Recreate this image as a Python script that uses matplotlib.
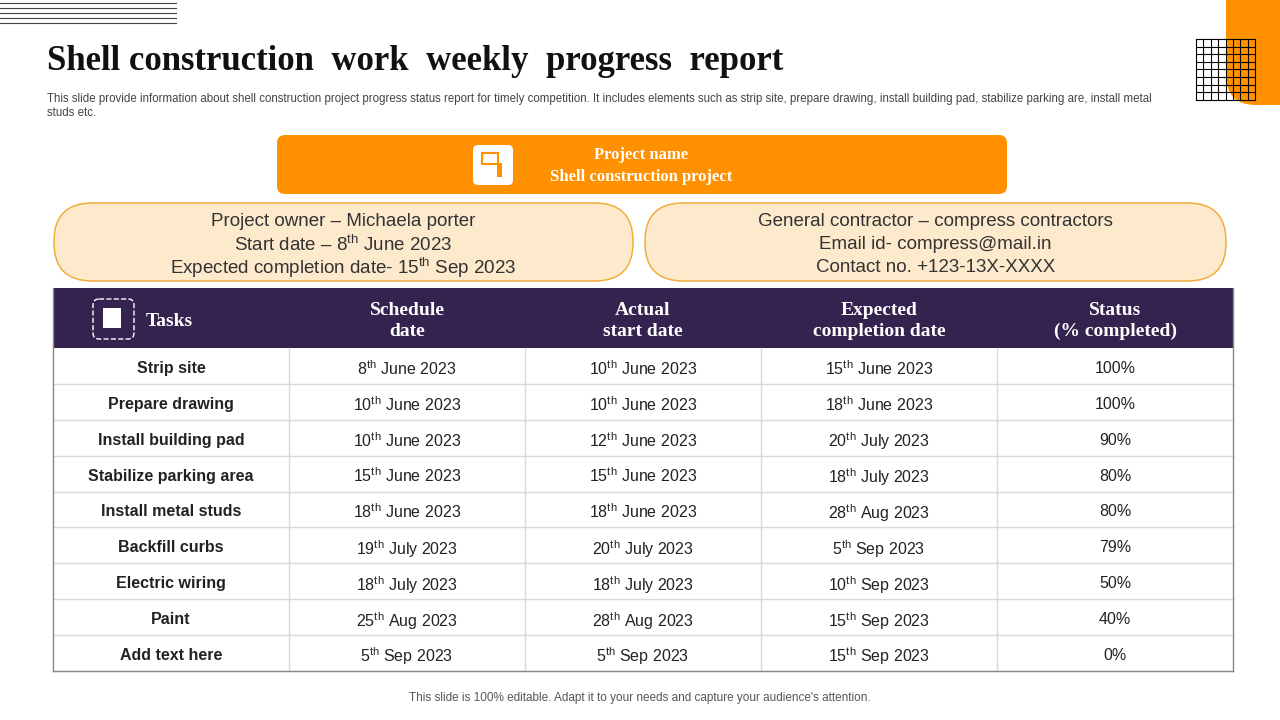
import re
import matplotlib
matplotlib.use("Agg")
import matplotlib.pyplot as plt
from matplotlib.patches import FancyBboxPatch, Rectangle

plt.rcParams["font.family"] = "Liberation Sans"
plt.rcParams["mathtext.fontset"] = "custom"
plt.rcParams["mathtext.rm"] = "Liberation Sans"
plt.rcParams["mathtext.it"] = "Liberation Sans"

ORANGE = "#FF9000"
PURPLE = "#35234F"
PEACH = "#FDE9CC"

tasks = ["Strip site", "Prepare drawing", "Install building pad", "Stabilize parking area",
         "Install metal studs", "Backfill curbs", "Electric wiring", "Paint", "Add text here"]
schedule = ["8th June 2023", "10th June 2023", "10th June 2023", "15th June 2023", "18th June 2023",
            "19th July 2023", "18th July 2023", "25th Aug 2023", "5th Sep 2023"]
actual = ["10th June 2023", "10th June 2023", "12th June 2023", "15th June 2023", "18th June 2023",
          "20th July 2023", "18th July 2023", "28th Aug 2023", "5th Sep 2023"]
expected = ["15th June 2023", "18th June 2023", "20th July 2023", "18th July 2023", "28th Aug 2023",
            "5th Sep 2023", "10th Sep 2023", "15th Sep 2023", "15th Sep 2023"]
status = ["100%", "100%", "90%", "80%", "80%", "79%", "50%", "40%", "0%"]
headers = ["Tasks", "Schedule\ndate", "Actual\nstart date", "Expected\ncompletion date", "Status\n(% completed)"]


def sup(s):
    return re.sub(r"(\d+)(th|st|nd|rd)", r"\1$^{\\mathrm{\2}}$", s)


fig = plt.figure(figsize=(12.8, 7.2), dpi=100)
ax = fig.add_axes([0, 0, 1, 1])
ax.set_xlim(0, 1280)
ax.set_ylim(720, 0)
ax.axis("off")

# decorations
for yy in [3, 8, 13, 18, 23]:
    ax.plot([0, 176], [yy, yy], color="#444444", lw=0.8)
ax.add_patch(FancyBboxPatch((1226, -60), 120, 165, boxstyle="round,pad=0,rounding_size=30",
                            fc=ORANGE, ec="none"))
for i in range(9):
    ax.plot([1196 + i * 7.4, 1196 + i * 7.4], [39, 100], color="black", lw=0.8, zorder=5)
    ax.plot([1196, 1255], [39 + i * 7.6, 39 + i * 7.6], color="black", lw=0.8, zorder=5)

ax.text(47, 61, "Shell construction  work  weekly  progress  report", fontsize=25, fontweight="bold",
        family="Liberation Serif", va="center", color="#111111")
ax.text(47, 106, "This slide provide information about shell construction project progress status report for timely competition. "
        "It includes elements such as strip site, prepare drawing, install building pad, stabilize parking are, install metal\nstuds etc.",
        fontsize=8.3, color="#444444", va="center", linespacing=1.2)

# project name box
ax.add_patch(FancyBboxPatch((277, 135), 730, 59, boxstyle="round,pad=0,rounding_size=8", fc=ORANGE, ec="none"))
ax.add_patch(FancyBboxPatch((473, 145), 40, 40, boxstyle="round,pad=0,rounding_size=5", fc="white", ec="none"))
ax.add_patch(Rectangle((482, 153), 16, 11, fc="none", ec=ORANGE, lw=1.5))
ax.add_patch(Rectangle((497, 163), 5, 14, fc=ORANGE, ec="none"))
ax.text(641, 155, "Project name", fontsize=12, fontweight="bold", family="Liberation Serif",
        color="white", ha="center", va="center")
ax.text(641, 177, "Shell construction project", fontsize=12, fontweight="bold", family="Liberation Serif",
        color="white", ha="center", va="center")

# info pills
left_lines = ["Project owner \u2013 Michaela porter", sup("Start date \u2013 8th June 2023"),
              sup("Expected completion date- 15th Sep 2023")]
right_lines = ["General contractor \u2013 compress contractors", "Email id- compress@mail.in",
               "Contact no. +123-13X-XXXX"]
for x0, x1, lines in [(54, 633, left_lines), (645, 1226, right_lines)]:
    ax.add_patch(FancyBboxPatch((x0, 203), x1 - x0, 78, boxstyle="round,pad=0,rounding_size=38",
                                fc=PEACH, ec="#F0A830", lw=1))
    for k, t in enumerate(lines):
        ax.text((x0 + x1) / 2, 220 + k * 22.5, t, fontsize=13.5, ha="center", va="center_baseline",
                color="#333333")

# table
cols = [53, 289, 525, 761, 997, 1233]
top, hb = 288, 348
rh = (671 - hb) / len(tasks)
ax.add_patch(Rectangle((53, top), 1180, hb - top, fc=PURPLE, ec="none"))
ax.add_patch(FancyBboxPatch((93, 299), 41, 40, boxstyle="round,pad=0,rounding_size=6",
                            fc="none", ec="white", lw=1, ls="--"))
ax.add_patch(Rectangle((103, 308), 18, 20, fc="white", ec="none"))
ax.text(146, 321, headers[0], fontsize=14, fontweight="bold", family="Liberation Serif",
        color="white", va="center")
for c in range(1, 5):
    ax.text((cols[c] + cols[c + 1]) / 2, 321, headers[c], fontsize=14, fontweight="bold",
            family="Liberation Serif", color="white", ha="center", va="center", linespacing=1.3)

columns = [tasks, schedule, actual, expected, status]
for r in range(len(tasks)):
    y0 = hb + r * rh
    ax.plot([53, 1233], [y0 + rh, y0 + rh], color="#D9D9D9", lw=1)
    for c in range(5):
        txt = columns[c][r]
        ax.text((cols[c] + cols[c + 1]) / 2, y0 + rh / 2 + 1, sup(txt) if c else txt, fontsize=11.5,
                ha="center", va="center_baseline", color="#222222",
                fontweight="bold" if c == 0 else "normal")
for c in range(1, 5):
    ax.plot([cols[c], cols[c]], [hb, 671], color="#D9D9D9", lw=1)
ax.plot([53, 53], [top, 671], color="#888888", lw=1)
ax.plot([1233, 1233], [top, 671], color="#888888", lw=1)
ax.plot([53, 1233], [671, 671], color="#888888", lw=1)

ax.text(640, 698, "This slide is 100% editable. Adapt it to your needs and capture your audience's attention.",
        fontsize=8.5, ha="center", va="center", color="#555555")

fig.savefig("out.png", dpi=100)
